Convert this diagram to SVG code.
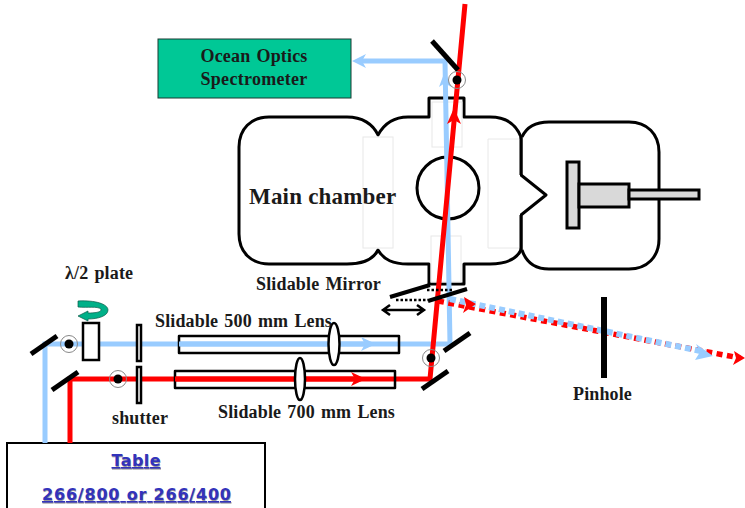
<svg xmlns="http://www.w3.org/2000/svg" width="745" height="508" viewBox="0 0 745 508">
<style>
.o{fill:none;stroke:#000;stroke-width:3;stroke-linejoin:round}
.w{fill:#fff;stroke:#000;stroke-width:2.5}
.g{fill:#d9d9d9;stroke:#000;stroke-width:3}
.ghost{fill:none;stroke:#e8e8e8;stroke-width:1}
.m{stroke:#000;stroke-width:5;fill:none}
.b{stroke:#99ccff;stroke-width:5;fill:none}
.r{stroke:#ff0000;stroke-width:5;fill:none}
.bh{fill:#99ccff}
.rh{fill:#ff0000}
.t{font-family:"Liberation Serif",serif;font-weight:bold;fill:#1a1a1a;font-size:18px;letter-spacing:.15px;word-spacing:1.5px}
.c{font-family:"DejaVu Sans",sans-serif;font-weight:bold;font-size:16px;text-decoration:underline;text-anchor:middle}
.ring{fill:none;stroke:#888;stroke-width:1}
</style>
<g id="main-chamber">
<path class="o" d="M378 135C373 124 362 117 347 117H269C251 117 239 129 239 147V234C239 252 251 264 269 264H347C362 264 373 260 378 250C384 260 393 264 408 264H429V284H464V264H490C505 264 516 260 521 250V215L546 195L521 175V137C516 124 505 117 490 117H464V98H429V117H408C393 117 384 124 378 135Z"/>
<circle class="o" cx="448" cy="188" r="31"/>
<rect class="ghost" x="363" y="137" width="30" height="111"/>
<rect class="ghost" x="432" y="102" width="30" height="45"/>
<rect class="ghost" x="431" y="236" width="30" height="46"/>
<path d="M520 175V139H488V248H520V215" fill="#fff" stroke="#e8e8e8"/>
<path d="M521 137V175M521 215V250" stroke="#000" stroke-width="3" fill="none"/>
<text x="249" y="204" class="t" style="font-size:23px;letter-spacing:.2px;word-spacing:0">Main chamber</text>
</g>
<g id="manipulator">
<path class="o" d="M522 137C526 128 535 122 549 122H629C647 122 659 134 659 152V239C659 257 647 269 629 269H549C535 269 526 262 522 250"/>
<rect class="g" x="567" y="162" width="12" height="66"/>
<rect class="g" x="579" y="184" width="50" height="23"/>
<rect class="g" x="629" y="190" width="70" height="9"/>
</g>
<g id="spectrometer">
<rect x="158" y="39" width="193" height="59" fill="#00c896" stroke="#1a3a33" stroke-width="1"/>
<text x="254" y="62" class="t" text-anchor="middle" textLength="107">Ocean Optics</text>
<text x="254" y="85" class="t" text-anchor="middle" textLength="107">Spectrometer</text>
</g>
<g id="table">
<rect x="7" y="443" width="258" height="70" fill="#fff" stroke="#000" stroke-width="2"/>
<text x="136.500" y="467" class="c" fill="#999" textLength="49">Table</text>
<text x="136" y="466" class="c" fill="#3333bb" textLength="49">Table</text>
<text x="137" y="501" class="c" fill="#999" textLength="189">266/800 or 266/400</text>
<text x="136.500" y="500" class="c" fill="#3333bb" textLength="189">266/800 or 266/400</text>
</g>
<g id="connectors">
<path class="b" d="M45 443V344H450L445 61H360"/>
<path class="r" d="M70 443V379H430L465 4"/>
<path d="M352 61L366 54L362 61L366 68Z" class="bh"/>
<path d="M445 71L439 87L445 83L451 87Z" class="bh"/>
<path d="M454 108L447 124L454 120L461 124Z" class="rh"/>
<path d="M438 301L740 358" stroke="#ff0000" stroke-width="5.500" stroke-dasharray="6 4.500" fill="none"/>
<path d="M450 299L705 352" stroke="#99ccff" stroke-width="6" stroke-dasharray="6 4" fill="none"/>
<path d="M713 356L695 360L700 352L696 344Z" class="bh"/>
<path d="M745 358L733 365L736 358L734 351Z" class="rh"/>
<path d="M476 304L463 313L466 305L464 297Z" class="rh"/>
</g>
<g id="mirrors">
<path class="m" d="M31 354L57 336"/>
<path class="m" d="M52 390L78 372"/>
<path class="m" d="M444 351L470 333"/>
<path class="m" d="M422 389L448 371"/>
<path class="m" d="M432 41L458 70"/>
</g>
<g id="half-wave-plate">
<rect class="w" x="83" y="323" width="16" height="37"/>
<path d="M78 301C95 300 108 304 108 310C108 316 98 319 88 319V321L78 316L88 311V313C96 313 102 312 101 309C97 306 88 308 78 307Z" fill="#00b088" stroke="#0a5a48" stroke-width=".7"/>
<text x="65" y="279" class="t">λ/2 plate</text>
</g>
<g id="shutter">
<rect class="w" x="137" y="325" width="4" height="36"/>
<rect class="w" x="137" y="367" width="4" height="36"/>
<text x="112" y="424" class="t">shutter</text>
</g>
<g id="lens-500">
<rect class="o" x="179" y="336" width="220" height="17" style="stroke-width:2.500"/>
<path class="b" d="M179 344H365"/>
<path d="M376 344L361 337L365 344L361 351Z" class="bh"/>
<ellipse class="w" cx="334" cy="344" rx="5.500" ry="21"/>
<text x="155" y="327" class="t">Slidable 500 mm Lens</text>
</g>
<g id="lens-700">
<rect class="o" x="175" y="371" width="220" height="17" style="stroke-width:2.500"/>
<path class="r" d="M175 379H355"/>
<path d="M366 379L351 372L355 379L351 386Z" class="rh"/>
<ellipse class="w" cx="300" cy="379" rx="5" ry="21"/>
<text x="218" y="418" class="t">Slidable 700 mm Lens</text>
</g>
<g id="polarization-marks">
<circle cx="69" cy="344" r="4.500" fill="#000"/><circle class="ring" cx="69" cy="344" r="8.500"/>
<circle cx="118" cy="379" r="4.500" fill="#000"/><circle class="ring" cx="118" cy="379" r="8.500"/>
<circle cx="431" cy="358" r="4.500" fill="#000"/><circle class="ring" cx="431" cy="358" r="8.500"/>
<circle cx="457" cy="80" r="4.500" fill="#000"/><circle class="ring" cx="457" cy="80" r="8.500"/>
</g>
<g id="slidable-mirror">
<path d="M390 297L430 285" stroke="#000" stroke-width="4"/>
<path d="M428 301L467 289" stroke="#000" stroke-width="4"/>
<path d="M396 300H428M427 290H452" stroke="#000" stroke-width="2.500" stroke-dasharray="2.500 2"/>
<path d="M384 310H423M390 305L383 310L390 315M417 305L424 310L417 315" stroke="#000" stroke-width="2.500" fill="none"/>
<text x="256" y="290" class="t" textLength="125">Slidable Mirror</text>
</g>
<g id="pinhole">
<rect x="601" y="297" width="6" height="81" fill="#000"/>
<text x="573" y="400" class="t" textLength="59">Pinhole</text>
</g>
</svg>
